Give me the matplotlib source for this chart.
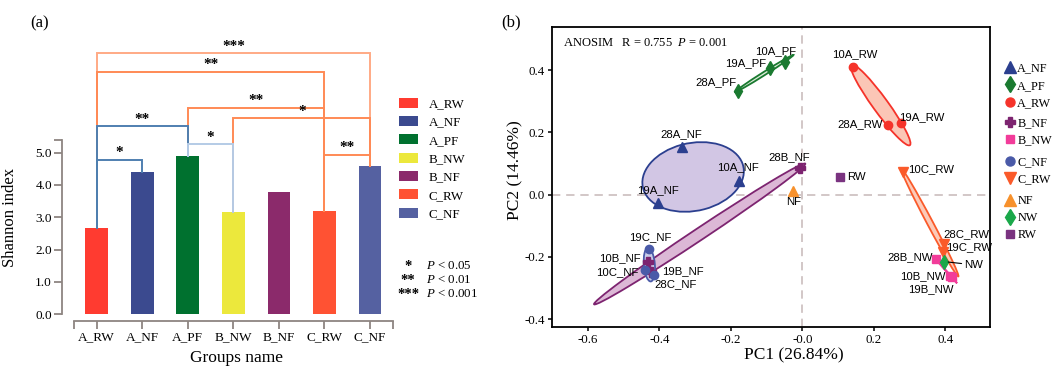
import numpy as np
import matplotlib
matplotlib.use("Agg")
import matplotlib.pyplot as plt
from matplotlib.patches import Ellipse, Patch
from matplotlib.lines import Line2D
from matplotlib.ticker import FixedLocator

plt.rcParams['font.family'] = ['Liberation Serif', 'DejaVu Serif']
plt.rcParams['mathtext.fontset'] = 'custom'
plt.rcParams['mathtext.rm'] = 'Liberation Serif'
plt.rcParams['mathtext.it'] = 'Liberation Serif:italic'

# ---------------- panel (a) data ----------------
groups = ['A_RW', 'A_NF', 'A_PF', 'B_NW', 'B_NF', 'C_RW', 'C_NF']
shannon = [2.68, 4.41, 4.91, 3.17, 3.77, 3.21, 4.58]
bar_colors = ['#ff3b30', '#3b4a8f', '#00712f', '#ece83c', '#8b2a6b', '#ff5233', '#5561a1']

sig_pairs = [('A_RW', 'C_NF'), ('A_RW', 'C_RW'), ('A_PF', 'C_RW'), ('B_NW', 'C_NF'),
             ('A_RW', 'A_PF'), ('A_PF', 'B_NW'), ('C_RW', 'C_NF'), ('A_RW', 'A_NF')]
sig_marks = ['***', '**', '**', '*', '**', '*', '**', '*']
sig_levels = [8.07, 7.50, 6.39, 6.06, 5.82, 5.26, 4.93, 4.77]
sig_colors = ['#ffaa85', '#ff8a55', '#ff8a55', '#ff8a55', '#4f7fb0', '#b4cbe6', '#ff8a55', '#4f7fb0']

p_marks = ['*', '**', '***']
p_texts = [r'$\mathit{P}$ < 0.05', r'$\mathit{P}$ < 0.01', r'$\mathit{P}$ < 0.001']

# ---------------- panel (b) data ----------------
samples = ['10A_NF', '19A_NF', '28A_NF', '10A_PF', '19A_PF', '28A_PF',
           '10A_RW', '19A_RW', '28A_RW', '10B_NF', '19B_NF', '28B_NF',
           '10B_NW', '19B_NW', '28B_NW', '10C_NF', '19C_NF', '28C_NF',
           '10C_RW', '19C_RW', '28C_RW', 'NF', 'NW', 'RW']
sample_group = ['A_NF'] * 3 + ['A_PF'] * 3 + ['A_RW'] * 3 + ['B_NF'] * 3 + ['B_NW'] * 3 + \
               ['C_NF'] * 3 + ['C_RW'] * 3 + ['NF', 'NW', 'RW']
pc1 = [-0.177, -0.403, -0.338, -0.049, -0.091, -0.180,
       0.142, 0.275, 0.238, -0.431, -0.424, -0.008,
       0.413, 0.419, 0.373, -0.441, -0.429, -0.415,
       0.280, 0.392, 0.396, -0.026, 0.396, 0.105]
pc2 = [0.044, -0.028, 0.154, 0.427, 0.406, 0.334,
       0.411, 0.231, 0.222, -0.217, -0.249, 0.087,
       -0.261, -0.266, -0.207, -0.242, -0.175, -0.258,
       0.074, -0.183, -0.159, 0.010, -0.215, 0.058]

pca_groups = ['A_NF', 'A_PF', 'A_RW', 'B_NF', 'B_NW', 'C_NF', 'C_RW', 'NF', 'NW', 'RW']
group_marker = {'A_NF': '^', 'A_PF': 'd', 'A_RW': 'o', 'B_NF': 'P', 'B_NW': 's',
                'C_NF': 'o', 'C_RW': 'v', 'NF': '^', 'NW': 'd', 'RW': 's'}
group_color = {'A_NF': '#2b3f8f', 'A_PF': '#1a7a30', 'A_RW': '#f5332a', 'B_NF': '#7d2470',
               'B_NW': '#f23c9a', 'C_NF': '#4a5aa8', 'C_RW': '#fa5a2a', 'NF': '#f7912c',
               'NW': '#1aa84a', 'RW': '#7a3380'}
group_fill = {'A_NF': '#d2c6e4', 'A_PF': '#dcecd8', 'A_RW': '#fbc6b6', 'B_NF': '#dcb8d6',
              'B_NW': '#f8c4de', 'C_NF': '#c9cdea', 'C_RW': '#fccab8'}
group_ms = {'^': 7.5, 'v': 7.5, 'd': 7.5, 'o': 6.0, 'P': 7.0, 's': 5.5}

# label offsets (pixels) and alignment for the sample names
label_pos = {
    '28A_NF': (0, 12.7, 'center'), '10A_NF': (-1, 13.3, 'center'), '19A_NF': (0, 13.3, 'center'),
    '28A_PF': (-1.6, 8, 'right'), '19A_PF': (-4, 5, 'right'), '10A_PF': (11, 10, 'right'),
    '10A_RW': (1.7, 12.4, 'center'), '28A_RW': (-5, 1.4, 'right'), '19A_RW': (-1.4, 6, 'left'),
    '28B_NF': (10, 10, 'right'), 'RW': (6.7, 0, 'left'), '10C_RW': (5.6, 2.7, 'left'),
    'NF': (0, -11, 'center'), '28C_RW': (-0.7, 10.3, 'left'), '19C_RW': (3, 4, 'left'),
    '28B_NW': (-3, 2.3, 'right'), 'NW': (20.3, -3.3, 'left'), '10B_NW': (-4.3, 0, 'right'),
    '19B_NW': (1, -11.4, 'right'), '19C_NF': (0.7, 12, 'center'), '10B_NF': (-7.6, 4, 'right'),
    '10C_NF': (-6.7, -2.3, 'right'), '19B_NF': (10.7, 1.3, 'left'), '28C_NF': (0, -9.3, 'left'),
}

W, H = 1053, 370
fig = plt.figure(figsize=(W / 100, H / 100), dpi=100)


def fig_box(l, t, r, b):
    return [l / W, 1 - b / H, (r - l) / W, (b - t) / H]


# ================= panel (a) =================
ax1 = fig.add_axes(fig_box(62.3, 39.5, 392.8, 314.3))
x = np.arange(len(groups))
ax1.bar(x, shannon, width=0.5, color=bar_colors, zorder=2)
ax1.set_xlim(-0.755, 6.5)
ax1.set_ylim(0, 8.5)

# brackets, highest first so the lower ones sit on top
for i, (g1, g2) in enumerate(sig_pairs):
    i1, i2 = groups.index(g1), groups.index(g2)
    h = sig_levels[i]
    ax1.plot([i1, i1, i2, i2], [shannon[i1], h, h, shannon[i2]], color=sig_colors[i],
             lw=1.4, zorder=3 + i, clip_on=False, solid_joinstyle='miter')
    ax1.text((i1 + i2) / 2, h + 0.22, sig_marks[i], ha='center', va='center',
             fontsize=11, fontweight='bold', zorder=20)

spine_col = '#8d8581'
for s in ['top', 'right']:
    ax1.spines[s].set_visible(False)
ax1.spines['left'].set_bounds(0, 5.39)
ax1.spines['bottom'].set_bounds(-0.5, 6.5)
ax1.spines['bottom'].set_position(('outward', 4.6))
for s in ['left', 'bottom']:
    ax1.spines[s].set_color(spine_col)
    ax1.spines[s].set_linewidth(1.3)
ax1.set_yticks([0, 1, 2, 3, 4, 5])
ax1.set_yticklabels(['%.1f' % v for v in [0, 1, 2, 3, 4, 5]])
ax1.yaxis.set_minor_locator(FixedLocator([5.39]))
ax1.set_xticks(x)
ax1.set_xticklabels(groups)
ax1.xaxis.set_minor_locator(FixedLocator([-0.5, 6.5]))
ax1.tick_params(which='both', length=5.5, width=1.3, color=spine_col, labelsize=9.5, pad=2)
ax1.set_ylabel('Shannon index', fontsize=12)
ax1.yaxis.set_label_coords((18.3 - 62.3) / 330.5, (314.3 - 217.5) / 274.8)
ax1.set_xlabel('Groups name', fontsize=12.5, va='center')
ax1.xaxis.set_label_coords((236.7 - 62.3) / 330.5, (314.3 - 358) / 274.8)

fig.text(39.7 / W, 1 - 23.3 / H, '(a)', fontsize=12, ha='center', va='center')

bar_handles = [Patch(facecolor=c, edgecolor='none') for c in bar_colors]
fig.legend(bar_handles, groups, loc='upper left', bbox_to_anchor=(399 / W, 1 - 97.5 / H),
           frameon=False, fontsize=9.3, handlelength=1.47, handleheight=0.83,
           handletextpad=0.85, labelspacing=0.45, borderpad=0, borderaxespad=0)

for k, (m, t) in enumerate(zip(p_marks, p_texts)):
    yy = 1 - (266 + 14.2 * k) / H
    fig.text(408 / W, yy, m, ha='center', va='center', fontsize=10.5, fontweight='bold')
    fig.text(425.7 / W, yy, t, ha='left', va='center', fontsize=9.3)

# ================= panel (b) =================
ax2 = fig.add_axes(fig_box(552, 26.7, 990, 326.7))
ax2.set_xlim(-0.7007, 0.5245)
ax2.set_ylim(-0.424, 0.539)
ax2.axhline(0, color='#cbbdbd', ls=(0, (5, 3.5)), lw=1.2, zorder=0)
ax2.axvline(0, color='#cbbdbd', ls=(0, (5, 3.5)), lw=1.2, zorder=0)

pc1_arr = np.array(pc1)
pc2_arr = np.array(pc2)
grp_arr = np.array(sample_group)
k_scale = 1.22
for g in pca_groups:
    sel = grp_arr == g
    if sel.sum() < 3:
        continue
    xs, ys = pc1_arr[sel], pc2_arr[sel]
    cov = np.cov(xs, ys)
    vals, vecs = np.linalg.eigh(cov)
    order = vals.argsort()[::-1]
    vals, vecs = vals[order], vecs[:, order]
    ang = np.degrees(np.arctan2(vecs[1, 0], vecs[0, 0]))
    ell = Ellipse((xs.mean(), ys.mean()), 2 * k_scale * np.sqrt(vals[0]),
                  2 * k_scale * np.sqrt(max(vals[1], 1e-7)), angle=ang,
                  facecolor=group_fill[g], edgecolor=group_color[g], lw=1.3, zorder=1)
    ax2.add_patch(ell)

for name, g, px, py in zip(samples, sample_group, pc1, pc2):
    mk = group_marker[g]
    ax2.plot(px, py, marker=mk, color=group_color[g], ms=group_ms[mk], ls='none',
             mec=group_color[g], zorder=3)
    dx, dy, ha = label_pos[name]
    arrow = dict(arrowstyle='-', color='black', lw=0.8, shrinkA=0, shrinkB=3) if name == 'NW' else None
    ax2.annotate(name, (px, py), xytext=(dx, dy), textcoords='offset pixels', ha=ha, va='center',
                 fontsize=8.2, family=['Liberation Sans', 'DejaVu Sans'], zorder=4,
                 arrowprops=arrow)

ax2.text((563.3 - 552) / 438, (326.7 - 42.7) / 300,
         r'ANOSIM   R = 0.755  $\mathit{P}$ = 0.001', transform=ax2.transAxes,
         ha='left', va='center', fontsize=9)

xt = [-0.6, -0.4, -0.2, 0.0, 0.2, 0.4]
ax2.set_xticks(xt)
ax2.set_xticklabels(['-0.6', '-0.4', '-0.2', '-0.0', '0.2', '0.4'])
yt = [-0.4, -0.2, 0.0, 0.2, 0.4]
ax2.set_yticks(yt)
ax2.set_yticklabels(['-0.4', '-0.2', '0.0', '0.2', '0.4'])
ax2.tick_params(length=3, width=1.1, labelsize=9.3, pad=2)
for s in ax2.spines.values():
    s.set_linewidth(1.3)
ax2.set_xlabel('PC1 (26.84%)', fontsize=12.5, va='center')
ax2.xaxis.set_label_coords((793.5 - 552) / 438, (326.7 - 355) / 300)
ax2.set_ylabel('PC2 (14.46%)', fontsize=12.5, va='center')
ax2.yaxis.set_label_coords((515 - 552) / 438, (326.7 - 170) / 300)

fig.text(511 / W, 1 - 22 / H, '(b)', fontsize=12, ha='center', va='center')

legend_sets = [['A_NF', 'A_PF', 'A_RW'], ['B_NF', 'B_NW'], ['C_NF', 'C_RW'], ['NF', 'NW', 'RW']]
legend_tops = [69.3, 124, 162.7, 201.7]
for names, top in zip(legend_sets, legend_tops):
    hs = [Line2D([], [], marker=group_marker[n], color=group_color[n], ls='none',
                 ms=group_ms[group_marker[n]] + 0.5) for n in names]
    fig.legend(hs, names, loc='upper left', bbox_to_anchor=(1004.5 / W, 1 - (top - 6.8) / H),
               frameon=False, fontsize=8.8, handlelength=0.85, handletextpad=0.2,
               labelspacing=0.43, borderpad=0, borderaxespad=0)

fig.savefig('out.png', dpi=100)
